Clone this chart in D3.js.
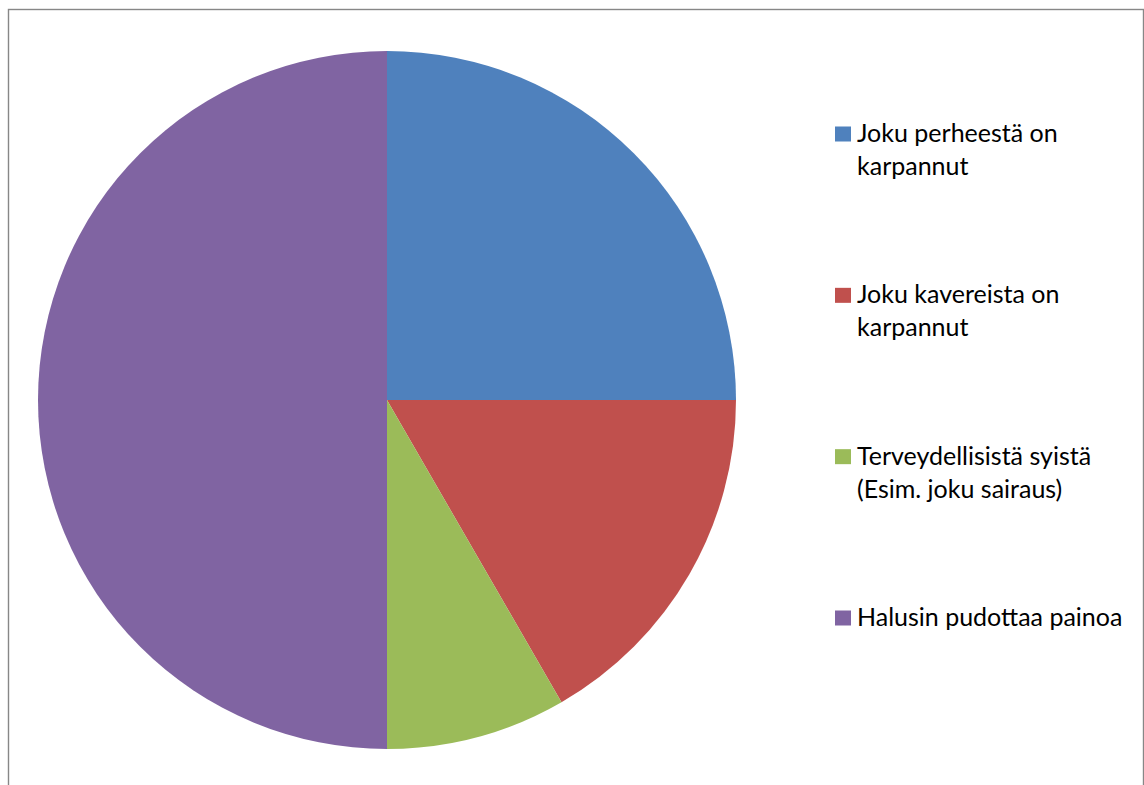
<!DOCTYPE html>
<html>
<head>
<meta charset="utf-8">
<script src="https://cdn.jsdelivr.net/npm/d3@7"></script>
<style>
  html, body { margin: 0; padding: 0; background: #fff; }
  svg { display: block; }
</style>
</head>
<body>
<svg id="chart" width="1144" height="785"></svg>
<script>
// Reasons given for trying a low-carb diet (pie shares)
const categories = [
  ["Joku perheestä on", "karpannut"],
  ["Joku kavereista on", "karpannut"],
  ["Terveydellisistä syistä", "(Esim. joku sairaus)"],
  ["Halusin pudottaa painoa"]
];
const values = [3, 2, 1, 6];
const colors = ["#4F81BD", "#C0504D", "#9BBB59", "#8064A2"];

const svg = d3.select("#chart");

// chart frame
svg.append("rect")
  .attr("x", 8.5).attr("y", 9.5)
  .attr("width", 1135).attr("height", 800)
  .attr("fill", "#fff")
  .attr("stroke", "#878787")
  .attr("stroke-width", 1.4);

const cx = 387, cy = 400, radius = 349;

const pie = d3.pie().sort(null).value(d => d);
const arc = d3.arc().innerRadius(0).outerRadius(radius);

const g = svg.append("g").attr("transform", `translate(${cx},${cy})`);
g.selectAll("path")
  .data(pie(values))
  .join("path")
  .attr("d", arc)
  .attr("fill", (d, i) => colors[i]);

// legend
const legendY = d3.scalePoint()
  .domain(d3.range(categories.length))
  .range([134, 618]);

const legend = svg.append("g").attr("font-family", "Lato, 'Open Sans', sans-serif")
  .attr("font-size", 25).attr("fill", "#000");

const items = legend.selectAll("g.item")
  .data(categories)
  .join("g")
  .attr("class", "item")
  .attr("transform", (d, i) => `translate(835,${legendY(i)})`);

items.append("rect")
  .attr("x", 0).attr("y", -7.5)
  .attr("width", 16).attr("height", 15)
  .attr("fill", (d, i) => colors[i]);

items.each(function(lines) {
  const t = d3.select(this).append("text").attr("x", 22).attr("y", 8);
  lines.forEach((line, j) => {
    t.append("tspan").attr("x", 22).attr("dy", j === 0 ? 0 : 33).text(line);
  });
});
</script>
</body>
</html>
